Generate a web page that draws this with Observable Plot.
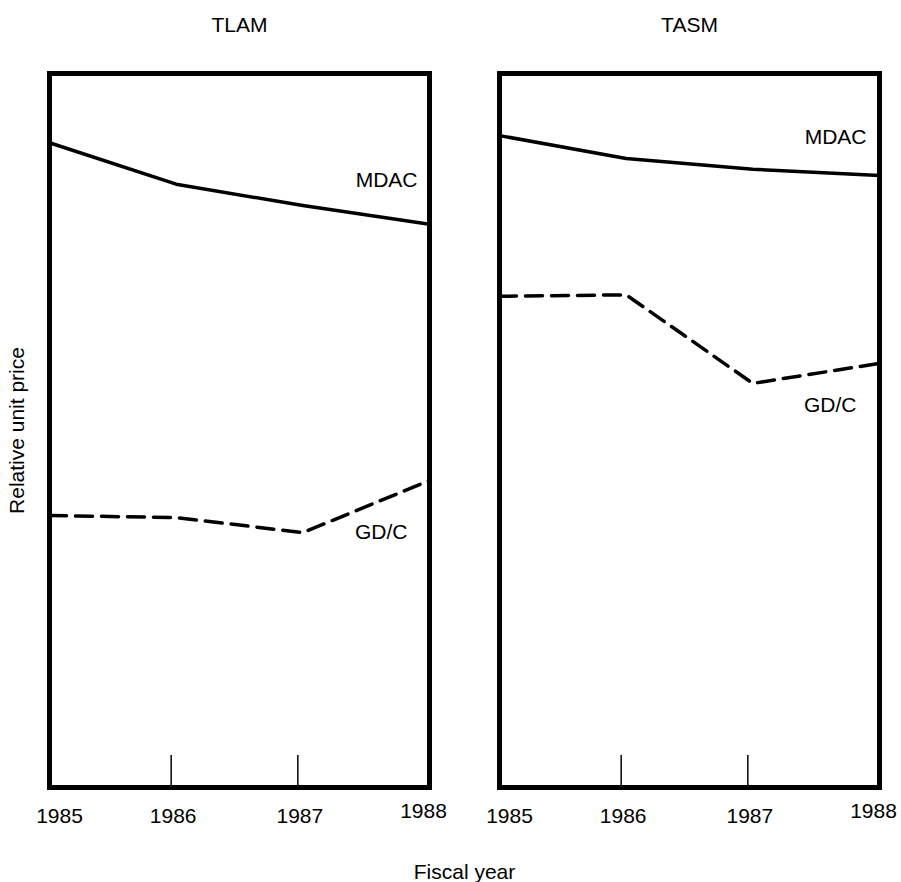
<!DOCTYPE html>
<html>
<head>
<meta charset="utf-8">
<script src="https://cdn.jsdelivr.net/npm/d3@7"></script>
<script src="https://cdn.jsdelivr.net/npm/@observablehq/plot@0.6"></script>
<style>
  html, body { margin: 0; padding: 0; background: #fff; }
</style>
</head>
<body>
<div id="chart"></div>
<script>
// ---- data (relative unit price, 0 = bottom, 100 = top of frame)
const panels = ["TLAM", "TASM"];
const years = [1985, 1986, 1987, 1988];
const innerTickYears = [1986, 1987];
const tlamMDAC = [90.3, 84.5, 81.5, 78.9];
const tlamGDC  = [38.1, 37.8, 35.7, 43.0];
const tasmMDAC = [91.3, 88.1, 86.6, 85.7];
const tasmGDC  = [68.8, 69.0, 56.6, 59.4];

const rows = [];
function add(panel, series, values) {
  values.forEach((v, i) => rows.push({panel, series, year: years[i], value: v}));
}
add("TLAM", "MDAC", tlamMDAC);
add("TLAM", "GD/C", tlamGDC);
add("TASM", "MDAC", tasmMDAC);
add("TASM", "GD/C", tasmGDC);

const firstYear = years[0];
const lastYear = years[years.length - 1];
const endOf = (panel, series) => rows.filter(d => d.panel === panel && d.series === series && d.year === lastYear);

const font = "'Liberation Sans', Arial, Helvetica, sans-serif";
const fs = 21;

const labelStyle = {fx: "panel", x: "year", y: "value", text: "series", textAnchor: "end", fontSize: fs, fill: "#000"};
const yearAxis = {tickFormat: d => String(d), tickSize: 0, tickPadding: 21, fontSize: fs, label: null};

const chart = Plot.plot({
  width: 901,
  height: 882,
  marginLeft: 49,
  marginRight: 21,
  marginTop: 73,
  marginBottom: 95,
  style: {fontFamily: font, fontSize: fs + "px", color: "#000", background: "#fff"},
  fx: {domain: panels, paddingInner: 0.155, paddingOuter: 0, label: null, axis: "top", tickSize: 0, tickPadding: 42},
  x: {domain: [firstYear, lastYear]},
  y: {domain: [0, 100]},
  marks: [
    Plot.frame({stroke: "#000", strokeWidth: 5}),
    Plot.tickX(innerTickYears, {x: d => d, insetTop: 682, dx: -5, stroke: "#000", strokeWidth: 1.5}),
    Plot.axisX({...yearAxis, ticks: [firstYear], dx: 10}),
    Plot.axisX({...yearAxis, ticks: innerTickYears, dx: -3}),
    Plot.axisX({...yearAxis, ticks: [lastYear], dx: -6, dy: -5}),
    Plot.axisX({ticks: [], tickSize: 0, label: "Fiscal year", labelAnchor: "center", labelOffset: 91,
      labelArrow: "none", fontSize: fs}),
    Plot.axisY({ticks: [], tickSize: 0, label: "Relative unit price", labelAnchor: "center",
      labelOffset: 40, labelArrow: "none", fontSize: fs}),
    Plot.line(rows.filter(d => d.series === "MDAC"), {fx: "panel", x: "year", y: "value", z: "panel",
      stroke: "#000", strokeWidth: 3.5}),
    Plot.line(rows.filter(d => d.series === "GD/C"), {fx: "panel", x: "year", y: "value", z: "panel",
      stroke: "#000", strokeWidth: 3.5, strokeDasharray: "17,9"}),
    Plot.text(endOf("TLAM", "MDAC"), {...labelStyle, dx: -12, dy: -44}),
    Plot.text(endOf("TLAM", "GD/C"), {...labelStyle, dx: -22, dy: 52}),
    Plot.text(endOf("TASM", "MDAC"), {...labelStyle, dx: -13, dy: -38}),
    Plot.text(endOf("TASM", "GD/C"), {...labelStyle, dx: -23, dy: 42})
  ]
});
document.getElementById("chart").appendChild(chart);
</script>
</body>
</html>
